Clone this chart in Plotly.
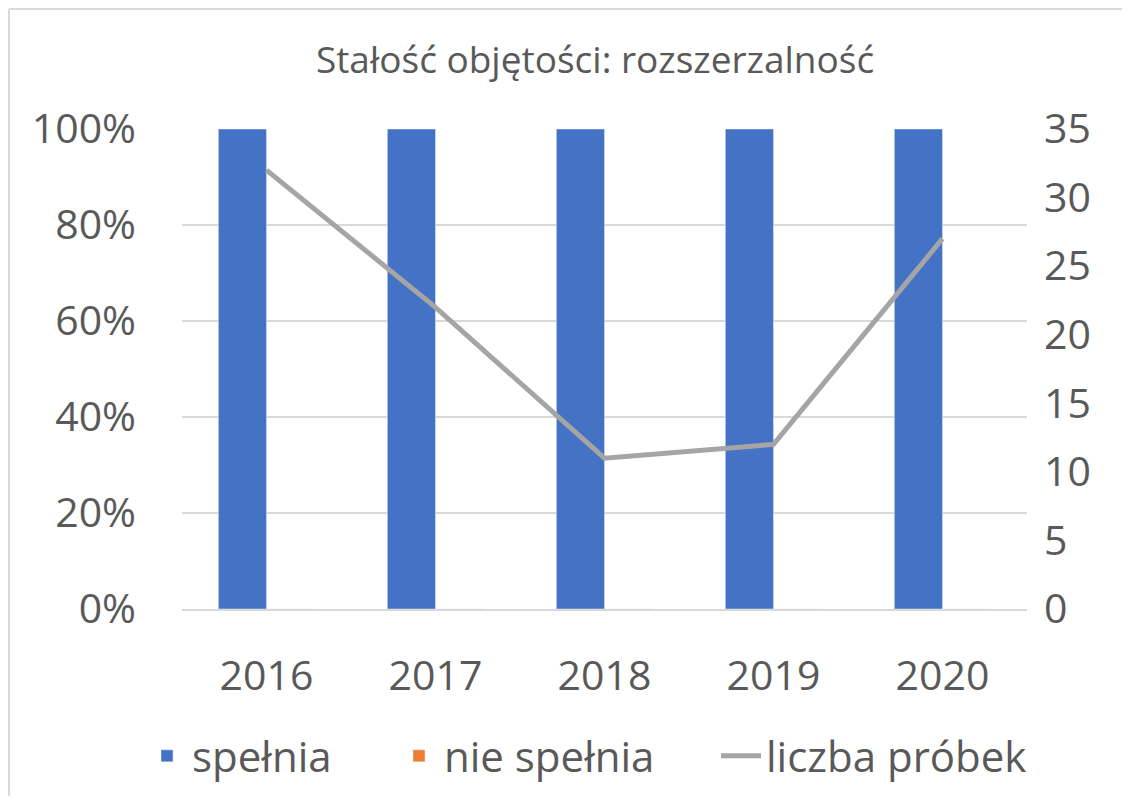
import plotly.graph_objects as go

years = ["2016", "2017", "2018", "2019", "2020"]
spelnia = [1.0, 1.0, 1.0, 1.0, 1.0]
nie_spelnia = [0.0, 0.0, 0.0, 0.0, 0.0]
liczba_probek = [32, 22, 11, 12, 27]

FONT = "Open Sans"
TXT = "#595959"
GRID = "#d9d9d9"

fig = go.Figure()
fig.add_trace(go.Bar(x=years, y=spelnia, name="spełnia", marker_color="#4472c4",
                     legend="legend", showlegend=True))
fig.add_trace(go.Bar(x=years, y=nie_spelnia, name="nie spełnia", marker_color="#ed7d31",
                     legend="legend2", showlegend=True))
fig.add_trace(go.Scatter(x=years, y=liczba_probek, name="liczba próbek", yaxis="y2",
                         mode="lines", line=dict(color="#a5a5a5", width=5),
                         legend="legend3", showlegend=True))

OFF = 8  # page body margin
W, H = 1130 - 2 * OFF, 804 - 2 * OFF
L, T = 182 - OFF, 129 - OFF
R, B = 103 - OFF, 195 - OFF
pw, ph = W - L - R, H - T - B
PL, PB = 182, 609  # screen coords of plot left / bottom

def px2x(p):
    return (p - PL) / pw

def py2y(p):
    return (PB - p) / ph

def leg(xs):
    return dict(orientation="h", xref="container", yref="container",
                x=(xs - OFF) / W, xanchor="left",
                y=1 - (756 - OFF) / H, yanchor="middle",
                font=dict(size=42, color=TXT), itemwidth=40, bgcolor="rgba(0,0,0,0)")

fig.update_layout(
    width=W, height=H,
    showlegend=True,
    margin=dict(l=L, r=R, t=T, b=B, autoexpand=False),
    paper_bgcolor="white", plot_bgcolor="white",
    font=dict(family=FONT, color=TXT, size=41),
    title=dict(text="Stałość objętości: rozszerzalność", x=(595 - OFF) / W, xanchor="center",
               y=1 - (60 - OFF) / H, yanchor="middle", font=dict(size=37, color=TXT)),
    barmode="group", bargap=0.43, bargroupgap=0,
    xaxis=dict(showgrid=False, showline=True, linecolor=GRID, linewidth=1.5,
               ticks="", ticklabelstandoff=30, tickfont=dict(size=41, color=TXT)),
    yaxis=dict(range=[0, 1], dtick=0.2, tickformat=".0%", showgrid=True, gridcolor=GRID,
               gridwidth=1.5, zeroline=False, showline=False, ticks="",
               ticklabelstandoff=45, tickfont=dict(size=41, color=TXT)),
    yaxis2=dict(range=[0, 35], dtick=5, overlaying="y", side="right", showgrid=False,
                zeroline=False, showline=False, ticks="", ticklabelstandoff=16,
                tickfont=dict(size=41, color=TXT)),
    legend=leg(142),
    legend2=leg(394),
    legend3=leg(716),
    shapes=[
        dict(type="line", xref="paper", yref="paper", x0=px2x(9), x1=px2x(9),
             y0=py2y(9), y1=py2y(810), line=dict(color=GRID, width=2)),
        dict(type="line", xref="paper", yref="paper", x0=px2x(9), x1=px2x(1135),
             y0=py2y(9), y1=py2y(9), line=dict(color=GRID, width=2)),
    ],
)

fig.write_html("out.html")
